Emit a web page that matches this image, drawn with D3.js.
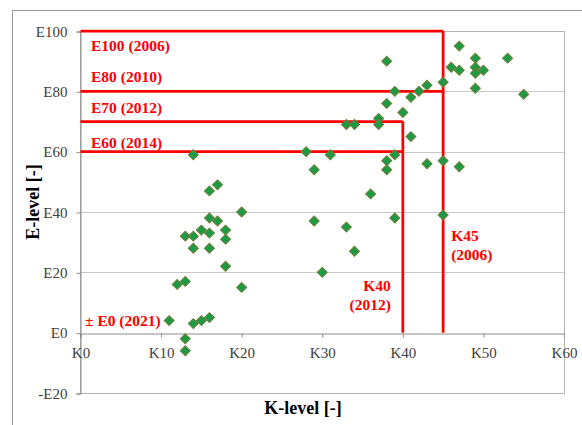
<!DOCTYPE html>
<html>
<head>
<meta charset="utf-8">
<script src="https://cdn.jsdelivr.net/npm/d3@7"></script>
<style>
  html, body { margin: 0; padding: 0; background: #fff; }
  svg { display: block; }
  text { font-family: "Liberation Serif", "Times New Roman", serif; }
</style>
</head>
<body>
<div id="chart"></div>
<script>
// ---- data ----
const kLevels = [14,17,16,20,16,17,15,18,16,13,14,18,14,16,18,12,13,20,11,14,15,16,13,13,
  38,39,42,41,38,40,37,33,34,37,41,28,31,39,38,29,38,43,45,47,36,29,39,45,33,34,30,
  47,53,49,46,47,49,49,50,45,43,49,55];
const eLevels = [59,49,47,40,38,37,34,34,33,32,32,31,28,28,22,16,17,15,4,3,4,5,-2,-6,
  90,80,80,78,76,73,71,69,69,69,65,60,59,59,57,54,54,56,57,55,46,37,38,39,35,27,20,
  95,91,91,88,87,88,86,87,83,82,81,79];

const xTicks = [0,10,20,30,40,50,60];
const yTicks = [-20,0,20,40,60,80,100];

// requirement thresholds (horizontal lines): E value, K end, label
const eLimitValues = [100, 80, 70, 60];
const eLimitKEnd   = [45, 45, 40, 40];
const eLimitLabels = ["E100 (2006)", "E80 (2010)", "E70 (2012)", "E60 (2014)"];
// vertical limits: K value, E top
const kLimitValues = [45, 40];
const kLimitETop   = [100, 70];
const kLimitLabels = [["K45", "(2006)"], ["K40", "(2012)"]];
const zeroLabel = "\u00B1 E0 (2021)";

const xTitle = "K-level [-]";
const yTitle = "E-level [-]";

// ---- layout ----
const W = 582, H = 425;
const svg = d3.select("#chart").append("svg").attr("width", W).attr("height", H);
svg.append("rect").attr("width", W).attr("height", H).attr("fill", "#fff");

// outer frame
svg.append("rect").attr("x", 12.5).attr("y", 10.5).attr("width", 640).attr("height", 500)
  .attr("fill", "none").attr("stroke", "#999").attr("stroke-width", 1);

const x = d3.scaleLinear().domain([0, 60]).range([80.5, 564]);
const y = d3.scaleLinear().domain([-20, 100]).range([393, 31]);

const red = "#ff0000";

// gridlines
svg.append("g").selectAll("line").data(yTicks.filter(d => d !== 0)).join("line")
  .attr("x1", x(0)).attr("x2", x(60))
  .attr("y1", d => Math.round(y(d)) + 0.5).attr("y2", d => Math.round(y(d)) + 0.5)
  .attr("stroke", "#c8c8c8").attr("stroke-width", 1);

// plot border right & top & bottom
svg.append("rect").attr("x", x(0)).attr("y", Math.round(y(100)) + 0.5)
  .attr("width", Math.round(x(60)) - x(0) + 0.5).attr("height", Math.round(y(-20)) - Math.round(y(100)))
  .attr("fill", "none").attr("stroke", "#b4b4b4").attr("stroke-width", 1);

// y axis
const yAxis = d3.axisLeft(y).tickValues(yTicks).tickSize(4).tickPadding(9)
  .tickFormat(d => d < 0 ? "-E" + Math.abs(d) : "E" + d);
const gy = svg.append("g").attr("transform", `translate(${x(0)},0.5)`).call(yAxis);
gy.select(".domain").attr("stroke", "#8c8c8c");
gy.selectAll(".tick line").attr("stroke", "#8c8c8c");
gy.selectAll(".tick text").attr("font-family", "Liberation Serif").attr("font-size", 15).attr("fill", "#404040");

// x axis at E0
const xAxis = d3.axisBottom(x).tickValues(xTicks).tickSize(4).tickPadding(10)
  .tickFormat(d => "K" + d);
const gx = svg.append("g").attr("transform", `translate(0,${Math.round(y(0)) + 0.5})`).call(xAxis);
gx.select(".domain").attr("stroke", "#8c8c8c");
gx.selectAll(".tick line").attr("stroke", "#8c8c8c");
gx.selectAll(".tick text").attr("font-family", "Liberation Serif").attr("font-size", 15).attr("fill", "#404040");

// red limit lines
const hl = svg.append("g");
eLimitValues.forEach((e, i) => {
  hl.append("line").attr("x1", x(0)).attr("x2", x(eLimitKEnd[i]))
    .attr("y1", y(e)).attr("y2", y(e))
    .attr("stroke", red).attr("stroke-width", 2.75);
});
kLimitValues.forEach((k, i) => {
  hl.append("line").attr("x1", x(k)).attr("x2", x(k))
    .attr("y1", y(kLimitETop[i])).attr("y2", y(0))
    .attr("stroke", red).attr("stroke-width", 2.75);
});

// points
const pts = kLevels.map((k, i) => ({k, e: eLevels[i]}));
const diamond = d3.symbol().type(d3.symbolSquare).size(50);
svg.append("g").selectAll("path").data(pts).join("path")
  .attr("d", diamond)
  .attr("transform", d => `translate(${x(d.k)},${y(d.e)}) rotate(45)`)
  .attr("fill", "#1e9a46").attr("stroke", "#6f7d36").attr("stroke-width", 1);

// red labels
const lab = svg.append("g").attr("font-family", "Liberation Serif").attr("font-weight", "bold")
  .attr("font-size", 15.5).attr("fill", red);
const eLabelBase = [51, 82, 113, 148];
eLimitLabels.forEach((t, i) => {
  lab.append("text").attr("x", 91).attr("y", eLabelBase[i]).text(t);
});
lab.append("text").attr("x", 85).attr("y", 326).text(zeroLabel);
// K45
lab.append("text").attr("x", x(kLimitValues[0]) + 8).attr("y", 241).text(kLimitLabels[0][0]);
lab.append("text").attr("x", x(kLimitValues[0]) + 8).attr("y", 260).text(kLimitLabels[0][1]);
// K40
lab.append("text").attr("x", x(kLimitValues[1]) - 12).attr("y", 291).attr("text-anchor", "end").text(kLimitLabels[1][0]);
lab.append("text").attr("x", x(kLimitValues[1]) - 12).attr("y", 310).attr("text-anchor", "end").text(kLimitLabels[1][1]);

// axis titles
svg.append("text").attr("x", 303).attr("y", 414).attr("text-anchor", "middle")
  .attr("font-weight", "bold").attr("font-size", 18).attr("fill", "#000").text(xTitle);
svg.append("text").attr("transform", "translate(39,202) rotate(-90)").attr("text-anchor", "middle")
  .attr("font-weight", "bold").attr("font-size", 18).attr("fill", "#000").text(yTitle);
</script>
</body>
</html>
